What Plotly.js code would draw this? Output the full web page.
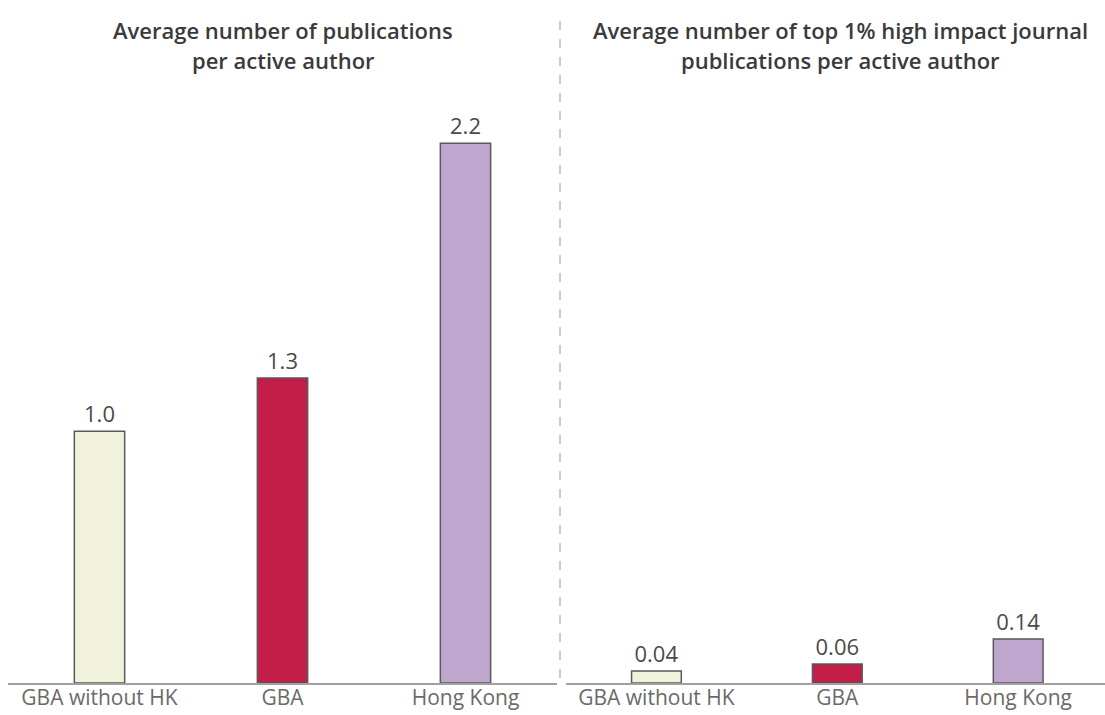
<!DOCTYPE html>
<html>
<head>
<meta charset="utf-8">
<script src="https://cdn.plot.ly/plotly-3.0.1.min.js"></script>
<style>html,body{margin:0;padding:0;background:#fff;}#chart{width:1105px;height:715px;}</style>
</head>
<body>
<div id="chart"></div>
<script>
// Data
const categories = ["GBA without HK", "GBA", "Hong Kong"];
const pubsPerAuthor = [1.04, 1.26, 2.23];          // labelled 1.0, 1.3, 2.2
const topJournalPubsPerAuthor = [0.039, 0.061, 0.142]; // labelled 0.04, 0.06, 0.14
const barColors = ["#f1f2dc", "#c21e47", "#bea6cf"];
const leftTitle = ["Average number of publications", "per active author"];
const rightTitle = ["Average number of top 1% high impact journal", "publications per active author"];

const W = 1105, H = 715;
const plotTop = 100, plotBottom = 683;
const plotH = plotBottom - plotTop;
const px = v => v / W;
const py = v => (plotBottom - v) / plotH;

const labelFont = {family: "Open Sans, sans-serif", size: 22, color: "#4a4a4a"};
const barLine = {color: "#5a5a5a", width: 1.5};

const traces = [
  {
    type: "bar", x: categories, y: pubsPerAuthor, xaxis: "x", yaxis: "y",
    width: 0.275,
    marker: {color: barColors, line: barLine},
    texttemplate: "%{y:.1f}", textposition: "outside", constraintext: "none",
    cliponaxis: false, textfont: labelFont, hoverinfo: "skip"
  },
  {
    type: "bar", x: categories, y: topJournalPubsPerAuthor, xaxis: "x2", yaxis: "y2",
    width: 0.275,
    marker: {color: barColors, line: barLine},
    texttemplate: "%{y:.2f}", textposition: "outside", constraintext: "none",
    cliponaxis: false, textfont: labelFont, hoverinfo: "skip"
  }
];

const xCommon = {
  type: "category", showgrid: false, zeroline: false,
  showline: true, linecolor: "#a0a0a0", linewidth: 2,
  ticks: "", ticklabelstandoff: -5,
  tickfont: {family: "Open Sans, sans-serif", size: 21, color: "#6a6a6a"},
  fixedrange: true
};
const yCommon = {showgrid: false, zeroline: false, showline: false, showticklabels: false, ticks: "", fixedrange: true};

const titleFont = {family: "Open Sans, sans-serif", size: 22, color: "#3a3a3a", weight: 600};
function titleAnn(text, xPix, yPix) {
  return {text: text, xref: "paper", yref: "paper", x: px(xPix), y: py(yPix),
          xanchor: "center", yanchor: "middle", showarrow: false, font: titleFont};
}

const layout = {
  width: W, height: H,
  margin: {l: 0, r: 0, t: plotTop, b: H - plotBottom},
  paper_bgcolor: "#fff", plot_bgcolor: "#fff",
  showlegend: false,
  bargap: 0,
  xaxis: Object.assign({}, xCommon, {domain: [px(8), px(557)], range: [-0.5, 2.5]}),
  xaxis2: Object.assign({}, xCommon, {domain: [px(566), 1], range: [-0.5, 2.48], anchor: "y2"}),
  yaxis: Object.assign({}, yCommon, {range: [0, plotH / 242]}),
  yaxis2: Object.assign({}, yCommon, {range: [0, plotH / 310], anchor: "x2"}),
  annotations: [
    titleAnn(leftTitle[0], 283, 30),
    titleAnn(leftTitle[1], 283, 60),
    titleAnn(rightTitle[0], 840, 30),
    titleAnn(rightTitle[1], 840, 60)
  ],
  shapes: [
    {type: "line", xref: "paper", yref: "paper", x0: px(560), x1: px(560), y0: py(678), y1: py(12),
     line: {color: "#8e9aae", width: 1, dash: "dash"}}
  ]
};

Plotly.newPlot("chart", traces, layout, {displayModeBar: false, staticPlot: true});
</script>
</body>
</html>
